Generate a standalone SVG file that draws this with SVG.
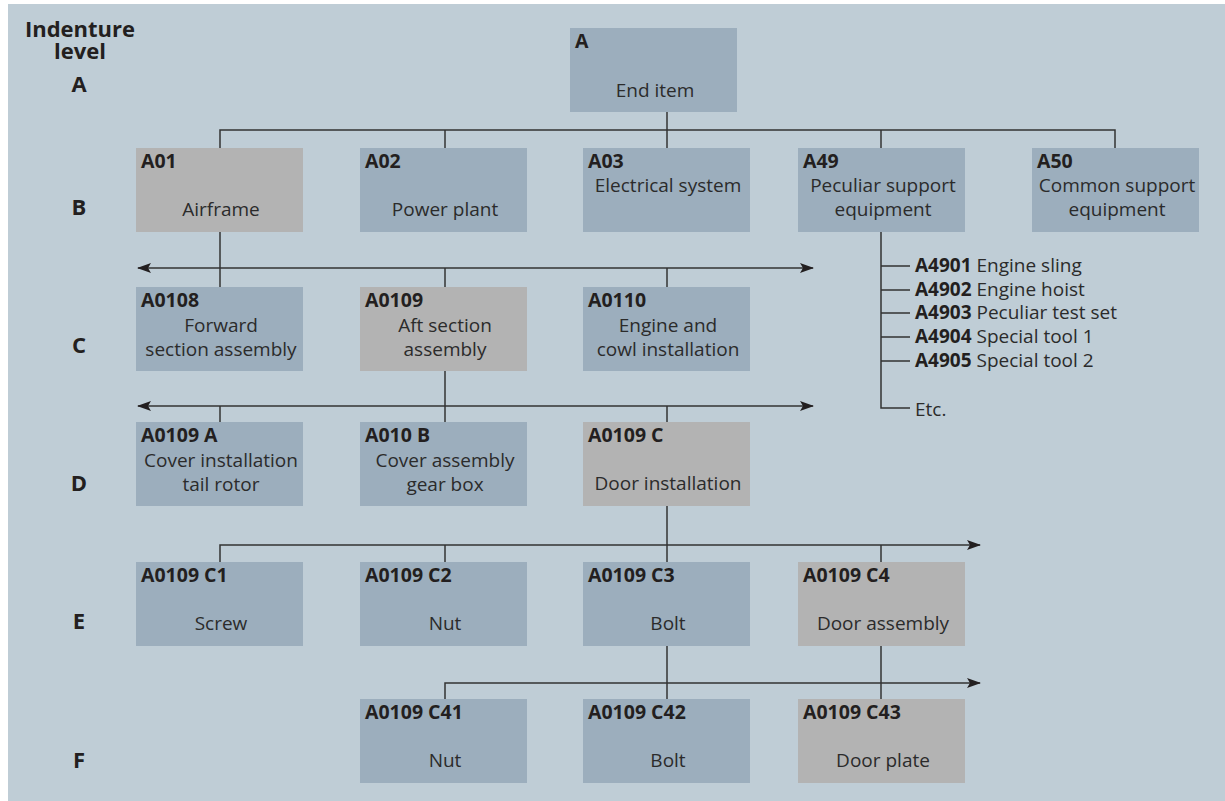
<svg xmlns="http://www.w3.org/2000/svg" width="1225" height="801" viewBox="0 0 1225 801">
  <style>
    .bg { fill: #bfcdd6; }
    .node rect { stroke: none; }
    .blue { fill: #9caebd; }
    .grey { fill: #b3b3b3; }
    text { font-family: "Open Sans", "Noto Sans", "DejaVu Sans", sans-serif; fill: #231f20; }
    .id { font-size: 19.5px; font-weight: bold; }
    .lbl { font-size: 19px; text-anchor: middle; fill: #2b2b2b; }
    .lvl { font-size: 22px; font-weight: bold; text-anchor: middle; }
    .item { font-size: 19px; fill: #2b2b2b; }
    .item tspan.b { font-weight: bold; fill: #231f20; }
    .conn path { fill: none; stroke: #333333; stroke-width: 1.5; }
  </style>
  <defs>
    <marker id="arr" viewBox="0 0 14 10" refX="13" refY="5" markerWidth="14" markerHeight="10" markerUnits="userSpaceOnUse" orient="auto-start-reverse">
      <path d="M0,0 L14,5 L0,10 L3,5 z" fill="#231f20"/>
    </marker>
  </defs>

  <rect class="bg" x="8" y="4" width="1217" height="797"/>

  <!-- indenture level labels -->
  <g id="levels">
    <text class="lvl" x="80" y="37">Indenture</text>
    <text class="lvl" x="80" y="59">level</text>
    <text class="lvl" x="79" y="92">A</text>
    <text class="lvl" x="79" y="215">B</text>
    <text class="lvl" x="79" y="353">C</text>
    <text class="lvl" x="79" y="491">D</text>
    <text class="lvl" x="79" y="629">E</text>
    <text class="lvl" x="79" y="768">F</text>
  </g>

  <!-- connectors -->
  <g id="connectors" class="conn">
    <!-- A to level B -->
    <path d="M667,112 V148"/>
    <path d="M220,148 V130 H1115 V148"/>
    <path d="M445,130 V148"/>
    <path d="M881,130 V148"/>
    <!-- level C -->
    <path d="M138,268 H813" marker-start="url(#arr)" marker-end="url(#arr)"/>
    <path d="M220,232 V287"/>
    <path d="M445,268 V287"/>
    <path d="M667,268 V287"/>
    <!-- level D -->
    <path d="M138,406 H813" marker-start="url(#arr)" marker-end="url(#arr)"/>
    <path d="M445,371 V422"/>
    <path d="M220,406 V422"/>
    <path d="M667,406 V422"/>
    <!-- level E -->
    <path d="M220,562 V545 H980" marker-end="url(#arr)"/>
    <path d="M667,506 V562"/>
    <path d="M445,545 V562"/>
    <path d="M881,545 V562"/>
    <!-- level F -->
    <path d="M445,699 V683 H980" marker-end="url(#arr)"/>
    <path d="M667,646 V699"/>
    <path d="M881,646 V699"/>
    <!-- A49 support list -->
    <path d="M881,232 V408 H910"/>
    <path d="M881,266 H910 M881,290 H910 M881,313 H910 M881,337 H910 M881,361 H910"/>
  </g>

  <!-- level A -->
  <g id="node-A" class="node">
    <rect class="blue" x="570" y="28" width="167" height="84"/>
    <text class="id" x="575" y="48">A</text>
    <text class="lbl" x="655" y="97">End item</text>
  </g>

  <!-- level B -->
  <g id="node-A01" class="node">
    <rect class="grey" x="136" y="148" width="167" height="84"/>
    <text class="id" x="141" y="168">A01</text>
    <text class="lbl" x="221" y="216">Airframe</text>
  </g>
  <g id="node-A02" class="node">
    <rect class="blue" x="360" y="148" width="167" height="84"/>
    <text class="id" x="365" y="168">A02</text>
    <text class="lbl" x="445" y="216">Power plant</text>
  </g>
  <g id="node-A03" class="node">
    <rect class="blue" x="583" y="148" width="167" height="84"/>
    <text class="id" x="588" y="168">A03</text>
    <text class="lbl" x="668" y="192">Electrical system</text>
  </g>
  <g id="node-A49" class="node">
    <rect class="blue" x="798" y="148" width="167" height="84"/>
    <text class="id" x="803" y="168">A49</text>
    <text class="lbl" x="883" y="192">Peculiar support</text>
    <text class="lbl" x="883" y="216">equipment</text>
  </g>
  <g id="node-A50" class="node">
    <rect class="blue" x="1032" y="148" width="167" height="84"/>
    <text class="id" x="1037" y="168">A50</text>
    <text class="lbl" x="1117" y="192">Common support</text>
    <text class="lbl" x="1117" y="216">equipment</text>
  </g>

  <!-- A49 support items -->
  <g id="support-items">
    <text class="item" x="915" y="272"><tspan class="b">A4901</tspan> Engine sling</text>
    <text class="item" x="915" y="296"><tspan class="b">A4902</tspan> Engine hoist</text>
    <text class="item" x="915" y="319"><tspan class="b">A4903</tspan> Peculiar test set</text>
    <text class="item" x="915" y="343"><tspan class="b">A4904</tspan> Special tool 1</text>
    <text class="item" x="915" y="367"><tspan class="b">A4905</tspan> Special tool 2</text>
    <text class="item" x="915" y="416">Etc.</text>
  </g>

  <!-- level C -->
  <g id="node-A0108" class="node">
    <rect class="blue" x="136" y="287" width="167" height="84"/>
    <text class="id" x="141" y="307">A0108</text>
    <text class="lbl" x="221" y="332">Forward</text>
    <text class="lbl" x="221" y="356">section assembly</text>
  </g>
  <g id="node-A0109" class="node">
    <rect class="grey" x="360" y="287" width="167" height="84"/>
    <text class="id" x="365" y="307">A0109</text>
    <text class="lbl" x="445" y="332">Aft section</text>
    <text class="lbl" x="445" y="356">assembly</text>
  </g>
  <g id="node-A0110" class="node">
    <rect class="blue" x="583" y="287" width="167" height="84"/>
    <text class="id" x="588" y="307">A0110</text>
    <text class="lbl" x="668" y="332">Engine and</text>
    <text class="lbl" x="668" y="356">cowl installation</text>
  </g>

  <!-- level D -->
  <g id="node-A0109A" class="node">
    <rect class="blue" x="136" y="422" width="167" height="84"/>
    <text class="id" x="141" y="442">A0109 A</text>
    <text class="lbl" x="221" y="467">Cover installation</text>
    <text class="lbl" x="221" y="491">tail rotor</text>
  </g>
  <g id="node-A010B" class="node">
    <rect class="blue" x="360" y="422" width="167" height="84"/>
    <text class="id" x="365" y="442">A010 B</text>
    <text class="lbl" x="445" y="467">Cover assembly</text>
    <text class="lbl" x="445" y="491">gear box</text>
  </g>
  <g id="node-A0109C" class="node">
    <rect class="grey" x="583" y="422" width="167" height="84"/>
    <text class="id" x="588" y="442">A0109 C</text>
    <text class="lbl" x="668" y="490">Door installation</text>
  </g>

  <!-- level E -->
  <g id="node-A0109C1" class="node">
    <rect class="blue" x="136" y="562" width="167" height="84"/>
    <text class="id" x="141" y="582">A0109 C1</text>
    <text class="lbl" x="221" y="630">Screw</text>
  </g>
  <g id="node-A0109C2" class="node">
    <rect class="blue" x="360" y="562" width="167" height="84"/>
    <text class="id" x="365" y="582">A0109 C2</text>
    <text class="lbl" x="445" y="630">Nut</text>
  </g>
  <g id="node-A0109C3" class="node">
    <rect class="blue" x="583" y="562" width="167" height="84"/>
    <text class="id" x="588" y="582">A0109 C3</text>
    <text class="lbl" x="668" y="630">Bolt</text>
  </g>
  <g id="node-A0109C4" class="node">
    <rect class="grey" x="798" y="562" width="167" height="84"/>
    <text class="id" x="803" y="582">A0109 C4</text>
    <text class="lbl" x="883" y="630">Door assembly</text>
  </g>

  <!-- level F -->
  <g id="node-A0109C41" class="node">
    <rect class="blue" x="360" y="699" width="167" height="84"/>
    <text class="id" x="365" y="719">A0109 C41</text>
    <text class="lbl" x="445" y="767">Nut</text>
  </g>
  <g id="node-A0109C42" class="node">
    <rect class="blue" x="583" y="699" width="167" height="84"/>
    <text class="id" x="588" y="719">A0109 C42</text>
    <text class="lbl" x="668" y="767">Bolt</text>
  </g>
  <g id="node-A0109C43" class="node">
    <rect class="grey" x="798" y="699" width="167" height="84"/>
    <text class="id" x="803" y="719">A0109 C43</text>
    <text class="lbl" x="883" y="767">Door plate</text>
  </g>
</svg>
